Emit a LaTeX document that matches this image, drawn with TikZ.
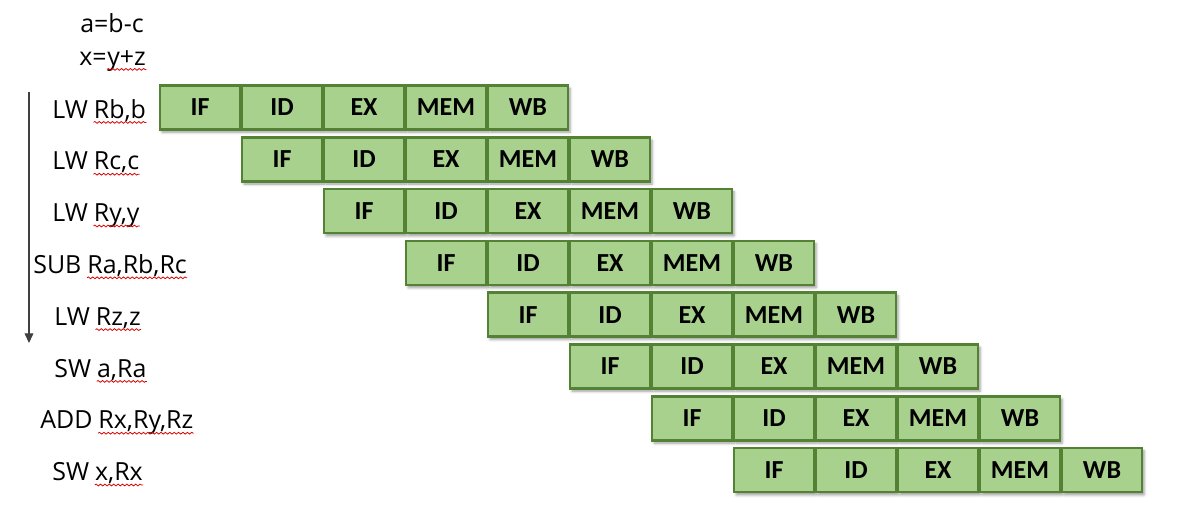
\documentclass[tikz,border=0pt]{standalone}
\usepackage{fontspec}
\usepackage{xcolor}
\setmainfont{Open Sans}
\newfontfamily\stagefont{Carlito}
\usepackage{tikz}
\usetikzlibrary{arrows.meta, positioning, shadows.blur}
\usetikzlibrary{decorations.pathmorphing}
\definecolor{stagefill}{HTML}{A9D18E}
\definecolor{stageline}{HTML}{548235}

\begin{document}
\begin{tikzpicture}[x=0.02cm, y=-0.02cm,
  stage/.style={draw=stageline, fill=stagefill, line width=1.4pt,
    minimum width=1.6cm, minimum height=0.88cm, inner sep=0pt,
    font=\stagefont\bfseries\fontsize{14.8}{17}\selectfont,
    blur shadow={shadow xshift=1.2pt, shadow yshift=-1.6pt,
      shadow blur radius=1.5pt, shadow opacity=40}},
  instr/.style={inner sep=0pt, font=\fontsize{14.2}{17}\selectfont},
  spell/.style={red!85!black, line width=0.45pt, decorate,
    decoration={snake, amplitude=0.5pt, segment length=2.5pt}}]
\useasboundingbox (0,0) rectangle (1186,522);
% Source statements
\node[instr, anchor=base west] (eqa) at (80,32) {a=b-c};
\node[instr, anchor=base west] (eqx) at (79,65) {x=};
\node[instr, anchor=base west] (eqyz) at (eqx.base east) {y+z};
\draw[spell] ([yshift=-2.5pt]eqyz.base west) -- ([yshift=-2.5pt]eqyz.base east);
% Program order
\coordinate (flowtop) at (29,92);
\coordinate (flowend) at (29,343);
\draw[-{Triangle[length=5.5pt,width=5pt]}, line width=0.6pt, black!75] (flowtop) -- (flowend);
% Instructions
\foreach \op/\arg/\lx [count=\i from 0] in {LW/{Rb,b}/52, LW/{Rc,c}/52, LW/{Ry,y}/52,
    SUB/{Ra,Rb,Rc}/33, LW/{Rz,z}/54, SW/{a,Ra}/54, ADD/{Rx,Ry,Rz}/40, SW/{x,Rx}/52}{
  \node[instr, anchor=base west] (op\i) at (\lx,{118+51.8*\i}) {\op};
  \node[instr, anchor=base west] (arg\i) at ([xshift=3pt]op\i.base east) {\arg};
  \draw[spell] ([yshift=-2.5pt]arg\i.base west) -- ([yshift=-2.5pt]arg\i.base east);
}
% Pipeline stages
\foreach \r in {0,...,7}
  \foreach \st [count=\s from 0] in {IF,ID,EX,MEM,WB}
    \node[stage] (r\r s\s) at ({200+82*(\r+\s)},{107.5+51.8*\r}) {\st};
\end{tikzpicture}
\end{document}
